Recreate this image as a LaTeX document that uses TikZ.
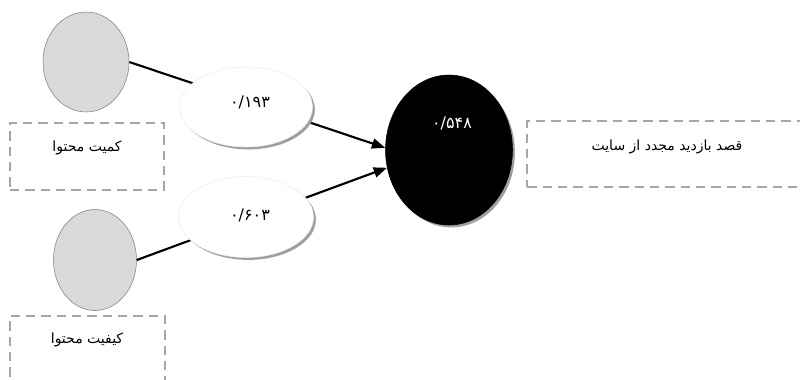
\documentclass[tikz,border=0pt]{standalone}
\usepackage{fontspec}
\TeXXeTstate=1
\newfontfamily\arabicfont[Script=Arabic]{DejaVu Sans}
\usetikzlibrary{shapes.geometric,shadows,arrows.meta}
\definecolor{boxgray}{HTML}{A6A6A6}
\definecolor{latgray}{HTML}{D9D9D9}
\tikzset{
  latent/.style={ellipse,fill=latgray,draw=gray,line width=0.4pt,inner sep=0pt},
  coef/.style={ellipse,fill=white,draw=gray!15,line width=0.4pt,inner sep=0pt,
    drop shadow={shadow xshift=1.8pt,shadow yshift=-1.8pt,fill=gray!75,opacity=1}},
  endo/.style={ellipse,fill=black,draw=black,inner sep=0pt,
    drop shadow={shadow xshift=1.8pt,shadow yshift=-1.8pt,fill=gray!75,opacity=1}},
  dbox/.style={rectangle,draw=boxgray,line width=1.5pt,dash pattern=on 7pt off 4.5pt,inner sep=0pt},
  txt/.style={font=\arabicfont\fontsize{10.5}{12}\selectfont,inner sep=0pt},
  num/.style={font=\arabicfont\fontsize{12}{14}\selectfont,inner sep=0pt},
  path/.style={line width=1.6pt,-{Triangle[length=10pt,width=7.5pt]}},
}
\begin{document}
\begin{tikzpicture}[x=0.75pt,y=-0.75pt]
\useasboundingbox (0,0) rectangle (800,379);
% latent variables
\node[latent,minimum width=64.5pt,minimum height=75pt] (q1) at (86,62) {};
\node[latent,minimum width=62.25pt,minimum height=75.75pt] (q2) at (95,260) {};
\node[endo,minimum width=95.25pt,minimum height=112.5pt] (y) at (449,150) {};
% paths
\draw[path] (q1.east) -- (y.178);
\draw[path] (q2.east) -- (y.196);
% coefficient ellipses
\node[coef,minimum width=99.75pt,minimum height=60pt] (c1) at (246,107) {};
\node[coef,minimum width=101.25pt,minimum height=60.75pt] (c2) at (246,217) {};
\node[num] (c1t) at (250,102) {۰/۱۹۳};
\node[num] (c2t) at (250,215) {۰/۶۰۳};
\node[num,text=white] (yt) at (452,123) {۰/۵۴۸};
% dashed boxes
\node[dbox,minimum width=115.5pt,minimum height=50.25pt] (b1) at (87,156.5) {};
\node[dbox,minimum width=116.25pt,minimum height=51pt] (b2) at (87.5,350) {};
\node[dbox,minimum width=212pt,minimum height=49.5pt] (b3) at (668.5,154) {};
\node[txt] (b1t) at (87,148) {\beginR کمیت محتوا\endR};
\node[txt] (b2t) at (87,340) {\beginR کیفیت محتوا\endR};
\node[txt] (b3t) at (667,147) {\beginR قصد بازدید مجدد از سایت\endR};
\end{tikzpicture}
\end{document}
